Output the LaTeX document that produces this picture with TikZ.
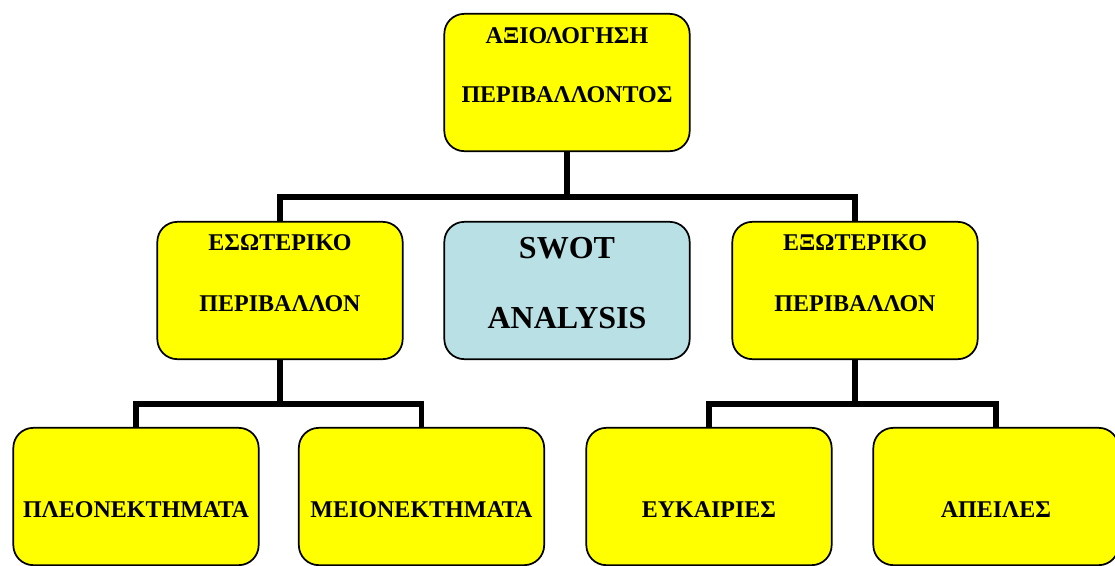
\documentclass[tikz,border=0pt]{standalone}
\usepackage{fontspec}
\setmainfont{Liberation Serif}
\definecolor{SwotYellow}{RGB}{255,255,0}
\definecolor{SwotLightBlue}{RGB}{185,224,228}

\begin{document}
\begin{tikzpicture}[x=0.75pt, y=-0.75pt,
    box/.style={draw, line width=1.3pt, rounded corners=15pt, fill=SwotYellow, minimum width=184pt, minimum height=103pt},
    txt/.style={align=center, inner sep=0pt, font=\bfseries\fontsize{18}{21.5}\selectfont},
    conn/.style={line width=4pt}]
    \useasboundingbox (0,0) rectangle (1115,565);

    % boxes
    \node[box] (eval) at (567,82.5) {};
    \node[box] (internal) at (280,290.5) {};
    \node[box, fill=SwotLightBlue] (swot) at (567,290.5) {};
    \node[box] (external) at (855,290.5) {};
    \node[box] (strengths) at (136,496.5) {};
    \node[box] (weaknesses) at (421.5,496.5) {};
    \node[box] (opportunities) at (709,496.5) {};
    \node[box] (threats) at (996,496.5) {};

    % texts
    \node[txt] (evalT) at (567,65) {ΑΞΙΟΛΟΓΗΣΗ\\[22.5pt]ΠΕΡΙΒΑΛΛΟΝΤΟΣ};
    \node[txt] (internalT) at (280,273) {ΕΣΩΤΕΡΙΚΟ\\[24.5pt]ΠΕΡΙΒΑΛΛΟΝ};
    \node[txt, font=\bfseries\fontsize{24}{28.5}\selectfont] (swotT) at (567,283) {SWOT\\[24pt]ANALYSIS};
    \node[txt] (externalT) at (855,273) {ΕΞΩΤΕΡΙΚΟ\\[24.5pt]ΠΕΡΙΒΑΛΛΟΝ};
    \node[txt] (strengthsT) at (136,510) {ΠΛΕΟΝΕΚΤΗΜΑΤΑ};
    \node[txt] (weaknessesT) at (421.5,510) {ΜΕΙΟΝΕΚΤΗΜΑΤΑ};
    \node[txt] (opportunitiesT) at (709,510) {ΕΥΚΑΙΡΙΕΣ};
    \node[txt] (threatsT) at (996,510) {ΑΠΕΙΛΕΣ};

    % connectors
    \coordinate (busTop) at (567,197);
    \coordinate (busLeft) at (280,404);
    \coordinate (busRight) at (855,404);
    \draw[conn] (eval.south) -- (busTop);
    \draw[conn] (internal.north) |- (busTop) -| (external.north);
    \draw[conn] (internal.south) -- (busLeft);
    \draw[conn] (strengths.north) |- (busLeft) -| (weaknesses.north);
    \draw[conn] (external.south) -- (busRight);
    \draw[conn] (opportunities.north) |- (busRight) -| (threats.north);
\end{tikzpicture}
\end{document}
